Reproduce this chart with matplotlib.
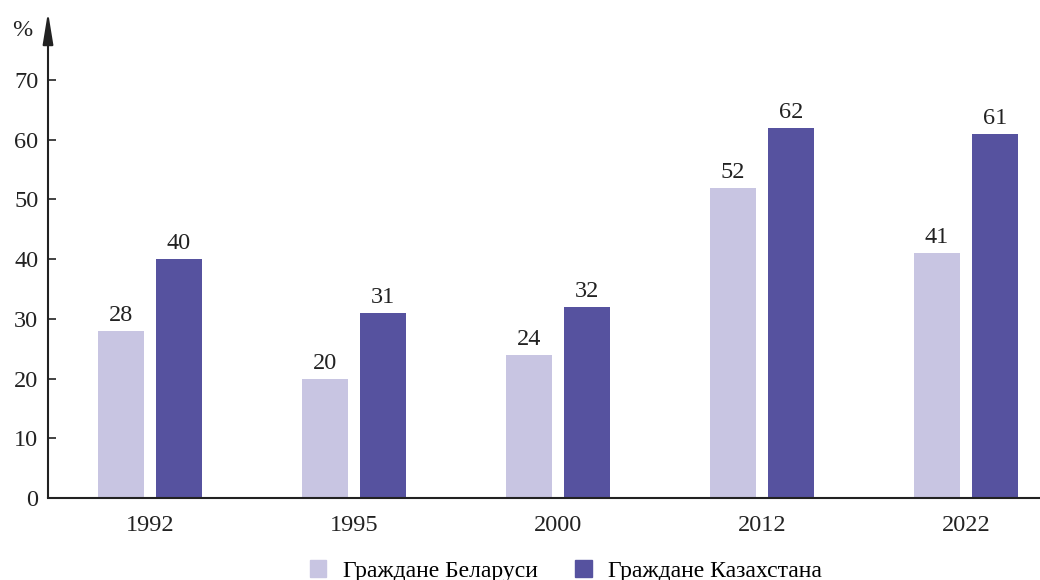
import matplotlib.pyplot as plt
import numpy as np
from matplotlib.patches import Patch

plt.rcParams['font.family'] = ['Liberation Serif', 'DejaVu Serif']
plt.rcParams['font.size'] = 17.5

years = ['1992', '1995', '2000', '2012', '2022']
belarus = [28, 20, 24, 52, 41]
kazakhstan = [40, 31, 32, 62, 61]
labels = ['Граждане Беларуси', 'Граждане Казахстана']
colors = ['#c8c5e2', '#56529f']

fig = plt.figure(figsize=(10.4, 5.8), dpi=100)
ax = fig.add_axes([48 / 1040, 1 - 498 / 580, 1 - 48 / 1040, 486 / 580])

x = np.arange(len(years))
w = 0.225
off = 0.142
ax.bar(x - off, belarus, w, color=colors[0])
ax.bar(x + off, kazakhstan, w, color=colors[1])

for xi, v in zip(x - off, belarus):
    ax.text(xi, v + 0.8, str(v), ha='center', va='bottom', color='#222222')
for xi, v in zip(x + off, kazakhstan):
    ax.text(xi, v + 0.8, str(v), ha='center', va='bottom', color='#222222')

ax.set_xlim(-0.5, 4.363)
ax.set_ylim(0, 81.4)
ax.set_yticks(range(0, 80, 10))
ax.set_xticks(x)
ax.set_xticklabels(years)
ax.tick_params(axis='x', length=0, pad=12, colors='#222222')
ax.tick_params(axis='y', direction='in', length=6, width=1.2, pad=7, colors='#222222')

for s in ['top', 'right', 'left']:
    ax.spines[s].set_visible(False)
ax.spines['bottom'].set_linewidth(1.5)
ax.spines['bottom'].set_color('#222222')

# y axis with arrow head
ax.annotate('', xy=(0, 1.0), xytext=(0, 0), xycoords='axes fraction',
            arrowprops=dict(arrowstyle='-|>,head_length=1.1,head_width=0.18',
                            color='#222222', lw=1.5, shrinkA=0, shrinkB=0))
fig.text(22 / 1040, 1 - 30 / 580, '%', ha='center', va='center', color='#222222')

handles = [Patch(color=c, label=l) for c, l in zip(colors, labels)]
fig.legend(handles=handles, loc='center', bbox_to_anchor=(566 / 1040, 1 - 571 / 580),
           ncol=2, frameon=False, fontsize=17, handlelength=0.7, handleheight=0.7,
           handletextpad=0.7, columnspacing=1.6)

fig.savefig('out.png', dpi=100)
